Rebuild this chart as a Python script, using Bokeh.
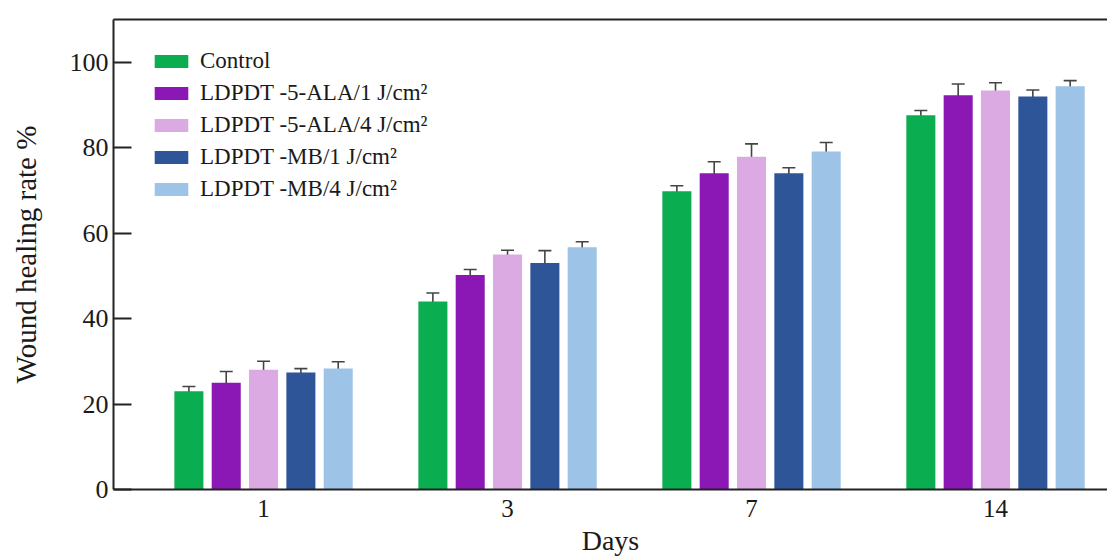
from bokeh.plotting import figure
from bokeh.models import (Range1d, FixedTicker, Whisker, TeeHead, ColumnDataSource,
                          Legend, LegendItem, LinearAxis)
from bokeh.embed import file_html
from bokeh.resources import INLINE

# ---- data ----
days = ["1", "3", "7", "14"]
groups = ["Control", "LDPDT -5-ALA/1 J/cm\u00b2", "LDPDT -5-ALA/4 J/cm\u00b2",
          "LDPDT -MB/1 J/cm\u00b2", "LDPDT -MB/4 J/cm\u00b2"]
control = [23.0, 44.0, 69.8, 87.6]
ala_1 = [25.0, 50.2, 74.0, 92.3]
ala_4 = [28.0, 55.0, 77.9, 93.4]
mb_1 = [27.4, 53.0, 74.0, 92.0]
mb_4 = [28.3, 56.7, 79.1, 94.4]
control_err = [1.1, 2.0, 1.3, 1.1]
ala_1_err = [2.6, 1.3, 2.7, 2.6]
ala_4_err = [2.0, 1.0, 3.0, 1.8]
mb_1_err = [0.9, 2.9, 1.3, 1.5]
mb_4_err = [1.6, 1.3, 2.1, 1.3]
y_ticks = [0, 20, 40, 60, 80, 100]

series = [control, ala_1, ala_4, mb_1, mb_4]
errors = [control_err, ala_1_err, ala_4_err, mb_1_err, mb_4_err]
colors = ["#0aad4f", "#8b17b5", "#dcaae2", "#2d5597", "#9dc3e6"]

FONT = "Liberation Serif"
TXT = "#1a1a1a"

p = figure(width=1107, height=558,
           x_range=Range1d(-0.615, 3.459), y_range=Range1d(0, 110),
           output_backend="svg", toolbar_location=None,
           min_border_left=113, min_border_top=19, min_border_bottom=67,
           min_border_right=0)
p.outline_line_color = None
p.xgrid.visible = False
p.ygrid.visible = False
p.background_fill_color = "white"
p.border_fill_color = "white"

bar_w = 0.119
pitch = 0.153
day_idx = list(range(len(days)))

items = []
for k, (vals, errs, col, name) in enumerate(zip(series, errors, colors, groups)):
    off = (k - 2) * pitch
    xs = [i + off for i in day_idx]
    src = ColumnDataSource(dict(x=xs, top=vals,
                                upper=[v + e for v, e in zip(vals, errs)],
                                lower=[v - e for v, e in zip(vals, errs)]))
    r = p.vbar(x="x", top="top", bottom=0, width=bar_w, source=src,
               fill_color=col, line_color=None)
    w = Whisker(source=src, base="x", upper="upper", lower="lower",
                line_color="#444444", line_width=1.6,
                upper_head=TeeHead(size=13, line_color="#444444", line_width=1.6),
                lower_head=TeeHead(size=13, line_color="#444444", line_width=1.6))
    p.add_layout(w)
    items.append(LegendItem(label=name, renderers=[r]))

legend = Legend(items=items, location=(37, 287), orientation="vertical",
                padding=0, margin=0, spacing=6,
                glyph_width=42, glyph_height=16, label_height=22,
                label_standoff=8, label_text_font=FONT,
                label_text_font_size="23px", label_text_color=TXT,
                border_line_color=None, background_fill_alpha=0)
p.add_layout(legend, "center")

# x axis
xa = p.xaxis[0]
xa.ticker = FixedTicker(ticks=day_idx)
xa.major_label_overrides = {i: d for i, d in zip(day_idx, days)}
xa.major_tick_in = 0
xa.major_tick_out = 0
xa.minor_tick_line_color = None
xa.axis_line_width = 2
xa.axis_line_color = "#222222"
xa.major_label_text_font = FONT
xa.major_label_text_font_size = "25px"
xa.major_label_text_color = TXT
xa.major_label_standoff = 10
xa.axis_label = "Days"
xa.axis_label_text_font = FONT
xa.axis_label_text_font_size = "28px"
xa.axis_label_text_font_style = "normal"
xa.axis_label_text_color = TXT
xa.axis_label_standoff = 5

# y axis
ya = p.yaxis[0]
ya.ticker = FixedTicker(ticks=y_ticks)
ya.major_tick_in = 18
ya.major_tick_out = 0
ya.major_tick_line_width = 2
ya.major_tick_line_color = "#222222"
ya.minor_tick_line_color = None
ya.axis_line_width = 2
ya.axis_line_color = "#222222"
ya.major_label_text_font = FONT
ya.major_label_text_font_size = "26px"
ya.major_label_text_color = TXT
ya.major_label_standoff = 5
ya.axis_label = "Wound healing rate %"
ya.axis_label_text_font = FONT
ya.axis_label_text_font_size = "29px"
ya.axis_label_text_font_style = "normal"
ya.axis_label_text_color = TXT
ya.axis_label_standoff = 25

# top frame line
top = LinearAxis(ticker=FixedTicker(ticks=[]), major_label_text_font_size="0px",
                 major_tick_in=0, major_tick_out=0, minor_tick_line_color=None,
                 axis_line_width=2, axis_line_color="#222222")
p.add_layout(top, "above")

open("out.html", "w").write(file_html(p, INLINE))
